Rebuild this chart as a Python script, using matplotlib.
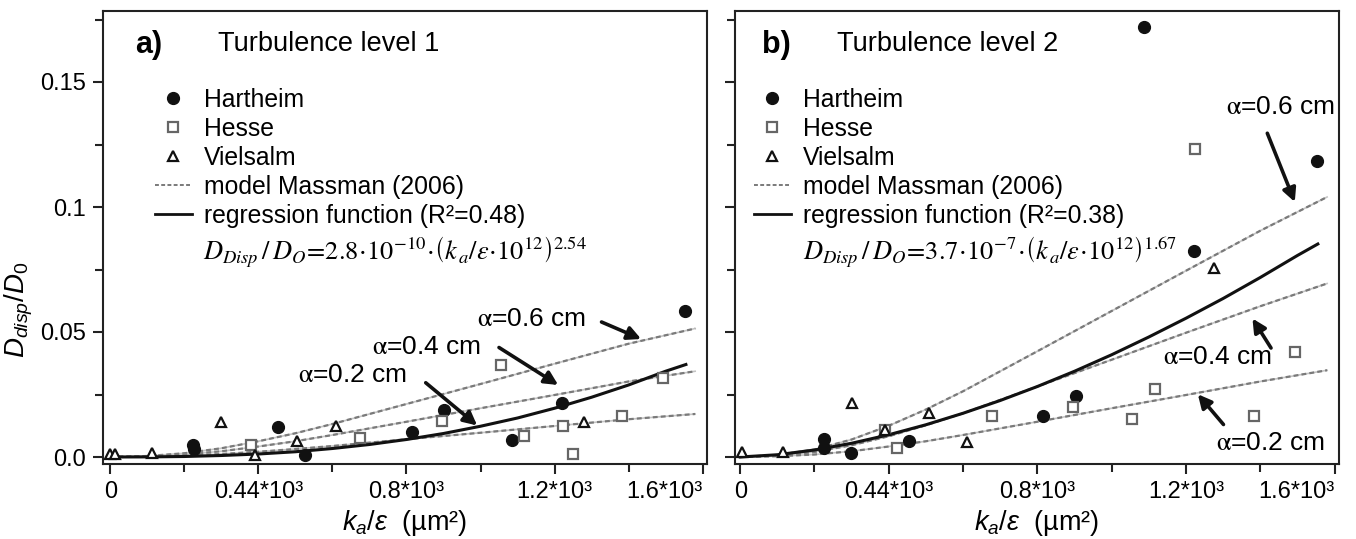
import matplotlib
matplotlib.use('Agg')

import matplotlib.pyplot as plt
from matplotlib.lines import Line2D

plt.rcParams['font.family'] = ['Liberation Sans', 'DejaVu Sans']
plt.rcParams['mathtext.fontset'] = 'custom'
plt.rcParams['mathtext.rm'] = 'Liberation Sans'
plt.rcParams['mathtext.it'] = 'Liberation Sans:italic'
plt.rcParams['mathtext.bf'] = 'Liberation Sans:bold'

# ---- turbulence level 1 (panel a) ----
l1_hart_x = [223, 226, 453, 526, 814, 902, 1085, 1220, 1552]
l1_hart_y = [0.0047, 0.0032, 0.0122, 0.0010, 0.0100, 0.0188, 0.0067, 0.0218, 0.0583]
l1_hesse_x = [379, 675, 896, 1055, 1117, 1223, 1250, 1383, 1493]
l1_hesse_y = [0.0047, 0.0078, 0.0143, 0.0370, 0.0086, 0.0126, 0.0012, 0.0166, 0.0317]
l1_viel_x = [0, 13, 112, 299, 390, 504, 609, 1281]
l1_viel_y = [0.0012, 0.0012, 0.0015, 0.0140, 0.0010, 0.0063, 0.0124, 0.0142]

# ---- turbulence level 2 (panel b) ----
l2_hart_x = [226, 226, 299, 455, 816, 903, 1086, 1221, 1552]
l2_hart_y = [0.0074, 0.0037, 0.0018, 0.0064, 0.0163, 0.0245, 0.1719, 0.0825, 0.1184]
l2_hesse_x = [389, 423, 677, 897, 1056, 1118, 1223, 1383, 1493]
l2_hesse_y = [0.0110, 0.0037, 0.0163, 0.0201, 0.0153, 0.0271, 0.1232, 0.0166, 0.0420]
l2_viel_x = [5, 115, 302, 389, 507, 611, 1275]
l2_viel_y = [0.0020, 0.0020, 0.0218, 0.0110, 0.0175, 0.0060, 0.0755]

# model Massman (2006), alpha = 0.6 / 0.4 / 0.2 cm
model_x = [0, 100, 200, 300, 400, 500, 600, 800, 1000, 1200, 1400, 1580]
l1_model = {
    '0.6': [0, 0.0004, 0.0015, 0.0035, 0.0063, 0.0095, 0.0132, 0.0212, 0.0292, 0.0373, 0.0453, 0.0514],
    '0.4': [0, 0.0003, 0.0010, 0.0023, 0.0042, 0.0063, 0.0088, 0.0141, 0.0195, 0.0248, 0.0302, 0.0343],
    '0.2': [0, 0.0001, 0.0005, 0.0012, 0.0021, 0.0032, 0.0044, 0.0071, 0.0097, 0.0124, 0.0151, 0.0172],
}
l2_model = {
    '0.6': [0, 0.0008, 0.0030, 0.0070, 0.0125, 0.0190, 0.0263, 0.0423, 0.0584, 0.0745, 0.0905, 0.1040],
    '0.4': [0, 0.0005, 0.0020, 0.0047, 0.0083, 0.0127, 0.0175, 0.0282, 0.0389, 0.0497, 0.0603, 0.0694],
    '0.2': [0, 0.0003, 0.0010, 0.0023, 0.0042, 0.0063, 0.0088, 0.0141, 0.0195, 0.0248, 0.0302, 0.0347],
}

# regression functions
l1_reg_x = [0, 100, 200, 300, 400, 500, 600, 700, 800, 900, 1000, 1100, 1200, 1300, 1400, 1500, 1555]
l1_reg_y = [0, 0.00004, 0.0002, 0.0006, 0.0012, 0.0021, 0.0034, 0.0050, 0.0070, 0.0094, 0.0123,
            0.0156, 0.0195, 0.0239, 0.0288, 0.0343, 0.0370]
l2_reg_x = [0, 100, 200, 300, 400, 500, 600, 700, 800, 900, 1000, 1100, 1200, 1300, 1400, 1500, 1555]
l2_reg_y = [0, 0.0009, 0.0028, 0.0055, 0.0089, 0.0129, 0.0175, 0.0226, 0.0282, 0.0343, 0.0409,
            0.0480, 0.0555, 0.0634, 0.0718, 0.0806, 0.0852]

# alpha labels: text, text position, arrow tail, arrow head
l1_notes = [
    ('0.6', (1137, 0.0554), (1327, 0.0540), (1434, 0.0472)),
    ('0.4', (855, 0.0442), (1050, 0.0438), (1210, 0.0288)),
    ('0.2', (654, 0.0330), (852, 0.0297), (991, 0.0126)),
]
l2_notes = [
    ('0.6', (1456, 0.1400), (1419, 0.1295), (1493, 0.1020)),
    ('0.4', (1285, 0.0399), (1429, 0.0436), (1379, 0.0554)),
    ('0.2', (1429, 0.0054), (1301, 0.0130), (1232, 0.0251)),
]

xticks = [0, 400, 800, 1200, 1600]
xticklabels = ['0', '0.44*10³', '0.8*10³', '1.2*10³', '1.6*10³']
yticks = [0, 0.05, 0.1, 0.15]
yticklabels = ['0.0', '0.05', '0.1', '0.15']

eq1 = r'$D_{Disp}\,/\,D_O\!=\!2.8\!\cdot\!10^{-10}\!\cdot\!\left(k_{\,a}/\epsilon\!\cdot\!10^{12}\right)^{2.54}$'
eq2 = r'$D_{Disp}\,/\,D_O\!=\!3.7\!\cdot\!10^{-7}\!\cdot\!\left(k_{\,a}/\epsilon\!\cdot\!10^{12}\right)^{1.67}$'

W, H = 1356, 539
fig = plt.figure(figsize=(W / 100, H / 100), dpi=100)
ax1 = fig.add_axes([103 / W, 1 - 464 / H, 604 / W, 453 / H])
ax2 = fig.add_axes([735 / W, 1 - 464 / H, 604 / W, 453 / H])

MODEL_C = '#7a7a7a'


def draw_panel(ax, hx, hy, sx, sy, vx, vy, model, rx, ry, notes, r2, eq, tag, title,
               xlim, leg_x, eq_x, show_ylabels):
    for key in ['0.6', '0.4', '0.2']:
        ax.plot(model_x, model[key], color='#c4c4c4', lw=1.2, zorder=2)
        ax.plot(model_x, model[key], color=MODEL_C, lw=1.6, dashes=(2.2, 1.4), zorder=2)
    ax.plot(rx, ry, color='#111111', lw=2.2, zorder=3)

    ax.plot(hx, hy, 'o', ms=8.5, color='#111111', zorder=4)
    ax.plot(sx, sy, 's', ms=7.8, mfc='white', mec='#666666', mew=1.6, zorder=4)
    ax.plot(vx, vy, '^', ms=7.5, mfc='white', mec='#111111', mew=1.6, zorder=4)

    for a, txy, tail, head in notes:
        ax.text(txy[0], txy[1], r'$\mathrm{\alpha}$' + '=' + a + ' cm', fontsize=19,
                math_fontfamily='stix', ha='center', va='center', zorder=5)
        ax.annotate('', xy=head, xytext=tail,
                    arrowprops=dict(arrowstyle='-|>', lw=2.6, color='#111111',
                                    mutation_scale=20, shrinkA=0, shrinkB=0))

    handles = [
        Line2D([], [], ls='none', marker='o', ms=8.5, color='#111111'),
        Line2D([], [], ls='none', marker='s', ms=7.8, mfc='white', mec='#666666', mew=1.6),
        Line2D([], [], ls='none', marker='^', ms=7.5, mfc='white', mec='#111111', mew=1.6),
        Line2D([], [], color=MODEL_C, lw=1.4, dashes=(2, 1.2)),
        Line2D([], [], color='#111111', lw=2.0),
    ]
    labels = ['Hartheim', 'Hesse', 'Vielsalm', 'model Massman (2006)',
              'regression function (R²=' + r2 + ')']
    ax.legend(handles, labels, loc='upper left', bbox_to_anchor=(leg_x, 0.83),
              frameon=False, fontsize=17.8, handlelength=1.5, handletextpad=0.5,
              labelspacing=0.2, borderaxespad=0, borderpad=0)
    ax.text(eq_x, 0.468, eq, transform=ax.transAxes, fontsize=19,
            math_fontfamily='stix', ha='left', va='center')

    ax.text(tag[1], 0.925, tag[0], transform=ax.transAxes, fontsize=22,
            fontweight='bold', ha='left', va='center')
    ax.text(title[1], 0.927, title[0], transform=ax.transAxes, fontsize=19.5,
            ha='left', va='center')

    ax.set_xlim(*xlim)
    ax.set_ylim(-0.0028, 0.1784)
    ax.set_xticks(xticks, labels=xticklabels)
    ax.set_xticks([200, 600, 1000, 1400], minor=True)
    ax.set_yticks(yticks, labels=yticklabels if show_ylabels else [])
    ax.set_yticks([0.025, 0.075, 0.125, 0.175], minor=True)
    ax.tick_params(which='both', direction='out', width=1.5, color='#222222',
                   labelsize=17, pad=5, top=False, right=False)
    ax.tick_params(which='major', length=7)
    ax.tick_params(which='minor', length=6)
    for sp in ax.spines.values():
        sp.set_linewidth(1.5)
        sp.set_color('#222222')
    ax.set_xlabel(r'$k_a/\varepsilon$  (µm²)', fontsize=19.5, labelpad=4)
    # last tick label sits left of its tick, as in the original
    ax.xaxis.get_majorticklabels()[-1].set_horizontalalignment('right')


draw_panel(ax1, l1_hart_x, l1_hart_y, l1_hesse_x, l1_hesse_y, l1_viel_x, l1_viel_y,
           l1_model, l1_reg_x, l1_reg_y, l1_notes, '0.48', eq1,
           ('a)', 0.053), ('Turbulence level 1', 0.19), (-20, 1612), 0.086, 0.166, True)
draw_panel(ax2, l2_hart_x, l2_hart_y, l2_hesse_x, l2_hesse_y, l2_viel_x, l2_viel_y,
           l2_model, l2_reg_x, l2_reg_y, l2_notes, '0.38', eq2,
           ('b)', 0.045), ('Turbulence level 2', 0.169), (-14, 1612), 0.031, 0.113, False)

ax1.set_ylabel(r'$D_{disp}/D_{\mathit{0}}$', fontsize=20)
ax1.yaxis.set_label_coords(-0.112, 0.34)

fig.savefig('out.png', dpi=100)
